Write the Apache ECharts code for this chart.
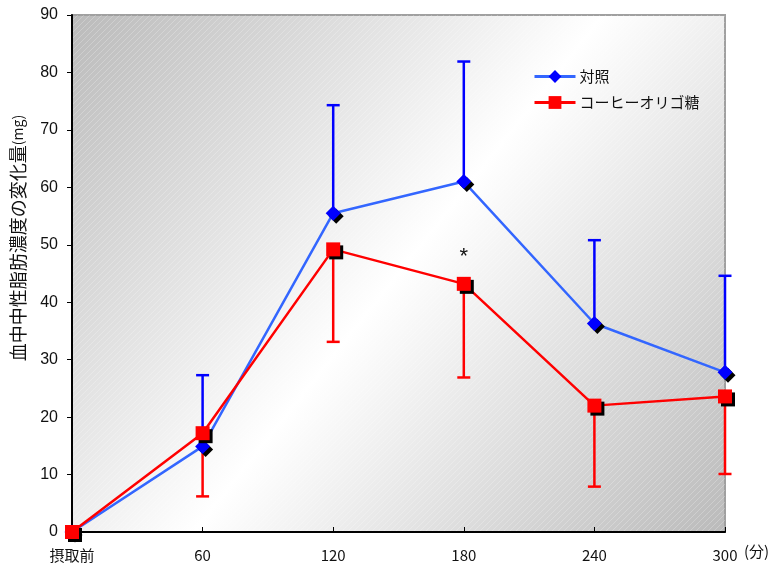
<!DOCTYPE html>
<html>
<head>
<meta charset="utf-8">
<script src="https://cdn.jsdelivr.net/npm/echarts@6/dist/echarts.min.js"></script>
<style>
  html, body { margin: 0; padding: 0; background: #fff; }
  #chart { width: 781px; height: 566px; }
</style>
</head>
<body>
<div id="chart"></div>
<script>
// Time after intake (minutes) and tick labels
const minutes = [0, 60, 120, 180, 240, 300];
const timeLabels = ['摂取前', '60', '120', '180', '240', '300'];

// Change in blood neutral fat (mg): mean and error-bar ends
const controlMean  = [0, 14.9, 55.5, 61.0, 36.3, 27.8];
const controlUpper = [null, 27.3, 74.3, 81.9, 50.8, 44.6];
const oligoMean    = [0, 17.2, 49.2, 43.2, 22.0, 23.6];
const oligoLower   = [null, 6.2, 33.1, 26.9, 7.9, 10.1];

const seriesNames = ['対照', 'コーヒーオリゴ糖'];

// Significance mark: minute and height of the asterisk
const sigMarks = [[180, 47.9]];

const GRID = { left: 72, right: 56, top: 15, bottom: 34 };
const CJK = '"Noto Sans CJK JP", sans-serif';
const LATIN = '"Liberation Sans", Arial, sans-serif';

// Faint diagonal hatching laid over the plot background
function hatchPattern() {
  const c = document.createElement('canvas');
  c.width = 6; c.height = 6;
  const ctx = c.getContext('2d');
  ctx.strokeStyle = 'rgba(255,255,255,0.3)';
  ctx.lineWidth = 0.8;
  ctx.beginPath();
  ctx.moveTo(0, 6); ctx.lineTo(6, 0);
  ctx.moveTo(-1, 1); ctx.lineTo(1, -1);
  ctx.moveTo(5, 7); ctx.lineTo(7, 5);
  ctx.stroke();
  return c;
}

function errorData(mean, end) {
  const out = [];
  minutes.forEach((m, i) => {
    if (end[i] != null) out.push([m, mean[i], end[i]]);
  });
  return out;
}

function errorRenderer(color) {
  return function (params, api) {
    const p0 = api.coord([api.value(0), api.value(1)]);
    const p1 = api.coord([api.value(0), api.value(2)]);
    const half = 6.5;
    const style = { stroke: color, lineWidth: 2.5 };
    return {
      type: 'group',
      children: [
        { type: 'line', shape: { x1: p0[0], y1: p0[1], x2: p1[0], y2: p1[1] }, style },
        { type: 'line', shape: { x1: p1[0] - half, y1: p1[1], x2: p1[0] + half, y2: p1[1] }, style }
      ]
    };
  };
}

function starRenderer(params, api) {
  const p = api.coord([api.value(0), api.value(1)]);
  return {
    type: 'text',
    x: p[0], y: p[1],
    style: { text: '*', font: '22px ' + LATIN, fill: '#111', align: 'center', verticalAlign: 'middle' }
  };
}

const markerShadow = {
  shadowColor: '#000', shadowBlur: 0, shadowOffsetX: 3, shadowOffsetY: 3
};

const chart = echarts.init(document.getElementById('chart'), null, { renderer: 'canvas' });

chart.setOption({
  animation: false,
  backgroundColor: '#fff',
  grid: {
    left: GRID.left, right: GRID.right, top: GRID.top, bottom: GRID.bottom,
    show: true,
    borderColor: '#a0a0a0',
    borderWidth: 2,
    backgroundColor: new echarts.graphic.LinearGradient(0, 0, 1, 1, [
      { offset: 0, color: '#bababa' },
      { offset: 0.5, color: '#ffffff' },
      { offset: 1, color: '#bababa' }
    ])
  },
  graphic: [
    {
      type: 'rect', silent: true, z: 0,
      left: GRID.left, top: GRID.top,
      shape: { width: 781 - GRID.left - GRID.right, height: 566 - GRID.top - GRID.bottom },
      style: { fill: { image: hatchPattern(), repeat: 'repeat' } }
    },
    {
      type: 'text', silent: true,
      x: 18, y: 238, rotation: Math.PI / 2,
      style: {
        text: '{a|血中中性脂肪濃度の変化量}{b|(mg)}',
        align: 'center', verticalAlign: 'middle',
        rich: {
          a: { font: '18px ' + CJK, fill: '#111' },
          b: { font: '14px ' + CJK, fill: '#111' }
        }
      }
    },
    {
      type: 'text', silent: true,
      x: 744, y: 551,
      style: { text: '(分)', font: '15px ' + CJK, fill: '#111', verticalAlign: 'middle' }
    }
  ],
  legend: {
    orient: 'vertical',
    left: 533, top: 69, padding: 0,
    itemWidth: 41, itemHeight: 16, itemGap: 11,
    itemStyle: { shadowColor: 'transparent', shadowOffsetX: 0, shadowOffsetY: 0 },
    lineStyle: { width: 3 },
    textStyle: { fontFamily: CJK, fontSize: 15, color: '#111', padding: [0, 0, 0, -1] },
    data: seriesNames
  },
  xAxis: {
    type: 'value',
    min: 0, max: 300, interval: 60,
    axisLine: { lineStyle: { color: '#000', width: 2 } },
    axisTick: { inside: true, length: 5, lineStyle: { color: '#000', width: 1 } },
    splitLine: { show: false },
    axisLabel: {
      margin: 16,
      fontFamily: CJK, fontSize: 15, color: '#111',
      formatter: v => timeLabels[minutes.indexOf(v)]
    }
  },
  yAxis: {
    type: 'value',
    min: 0, max: 90, interval: 10,
    axisLine: { show: true, lineStyle: { color: '#000', width: 2 } },
    axisTick: { show: true, inside: false, length: 5, lineStyle: { color: '#000', width: 1 } },
    splitLine: { show: false },
    axisLabel: { margin: 14, fontFamily: LATIN, fontSize: 16, color: '#111' }
  },
  series: [
    {
      type: 'custom', name: seriesNames[0] + ' SD', z: 3,
      renderItem: errorRenderer('#0000ff'),
      encode: { x: 0, y: [1, 2] },
      data: errorData(controlMean, controlUpper)
    },
    {
      type: 'custom', name: seriesNames[1] + ' SD', z: 3,
      renderItem: errorRenderer('#ff0000'),
      encode: { x: 0, y: [1, 2] },
      data: errorData(oligoMean, oligoLower)
    },
    {
      type: 'line', name: seriesNames[0], z: 4,
      data: minutes.map((m, i) => [m, controlMean[i]]),
      symbol: 'diamond', symbolSize: 15,
      lineStyle: { color: '#3366ff', width: 2.5 },
      itemStyle: Object.assign({ color: '#0000ff' }, markerShadow)
    },
    {
      type: 'line', name: seriesNames[1], z: 5,
      data: minutes.map((m, i) => [m, oligoMean[i]]),
      symbol: 'rect', symbolSize: 14,
      lineStyle: { color: '#ff0000', width: 2.5 },
      itemStyle: Object.assign({ color: '#ff0000' }, markerShadow)
    },
    {
      type: 'custom', name: 'sig', z: 6,
      renderItem: starRenderer,
      encode: { x: 0, y: 1 },
      data: sigMarks
    }
  ]
});
</script>
</body>
</html>
